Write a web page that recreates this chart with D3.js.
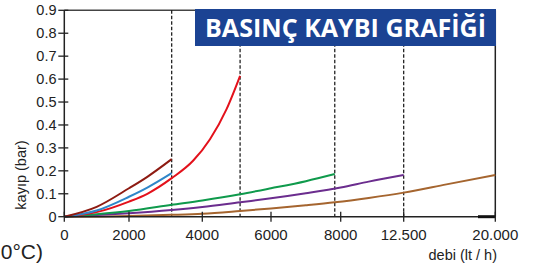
<!DOCTYPE html>
<html>
<head>
<meta charset="utf-8">
<script src="https://cdn.jsdelivr.net/npm/d3@7"></script>
<style>
body{margin:0;background:#fff;overflow:hidden;}
text{font-family:"Liberation Sans",Arial,sans-serif;fill:#222;}
</style>
</head>
<body>
<div id="svg-container"></div>
<script>
// tick values on the x axis (not evenly spaced in the original)
var xTicks = [0, 2000, 4000, 6000, 8000, 12500, 20000];
var xTickLabels = ["0", "2000", "4000", "6000", "8000", "12.500", "20.000"];
var yTicks = [0, 0.1, 0.2, 0.3, 0.4, 0.5, 0.6, 0.7, 0.8, 0.9];
var yTickLabels = ["0", "0.1", "0.2", "0.3", "0.4", "0.5", "0.6", "0.7", "0.8", "0.9"];
var limits = [3165, 5100, 7830, 12500];

// curves: [debi, kayip]
var darkRed = [[0,0],[1000,0.043],[2000,0.124],[2500,0.174],[3165,0.251]];
var blue = [[0,0],[1000,0.027],[2000,0.087],[2500,0.127],[3165,0.19]];
var red = [[0,0],[1000,0.02],[2000,0.066],[2500,0.1],[3165,0.168],[3754,0.245],[4224,0.338],[4710,0.47],[5100,0.614]];
var green = [[0,0],[1000,0.011],[2000,0.025],[3165,0.052],[4000,0.071],[5100,0.098],[6000,0.124],[7000,0.155],[7830,0.186]];
var purple = [[0,0],[1000,0.007],[2000,0.015],[3165,0.029],[4000,0.042],[5100,0.063],[6000,0.08],[7000,0.102],[8000,0.127],[10000,0.153],[12500,0.182]];
var brown = [[0,0],[2000,0.003],[3165,0.008],[4000,0.013],[5100,0.025],[6000,0.036],[7000,0.05],[7830,0.063],[10000,0.082],[12500,0.105],[16000,0.141],[20000,0.182]];

var series = [
  {d: brown, c: "#a5652f"},
  {d: purple, c: "#6b2d8e"},
  {d: green, c: "#0f9a4c"},
  {d: red, c: "#e3111b"},
  {d: blue, c: "#2f86c9"},
  {d: darkRed, c: "#8e1b12"}
];

var svg = d3.select("#svg-container").append("svg").attr("width", 537).attr("height", 270);

var x = d3.scaleLinear().domain(xTicks).range([64.3, 129, 202.3, 271, 340.7, 403.7, 495.3]);
var y = d3.scaleLinear().domain([0, 0.9]).range([216.7, 10.3]);

// frame
svg.append("line").attr("x1", x(0)).attr("x2", x(20000)).attr("y1", y(0.9)).attr("y2", y(0.9)).attr("stroke", "#444").attr("stroke-width", 1.5);
svg.append("line").attr("x1", x(20000)).attr("x2", x(20000)).attr("y1", y(0.9)).attr("y2", y(0)).attr("stroke", "#222").attr("stroke-width", 1.5);

// dashed limits
svg.selectAll(".lim").data(limits).enter().append("line")
  .attr("x1", d => x(d)).attr("x2", d => x(d))
  .attr("y1", y(0.9)).attr("y2", y(0))
  .attr("stroke", "#111").attr("stroke-width", 1.2).attr("stroke-dasharray", "3.5,2");

// curves
var line = d3.line().x(d => x(d[0])).y(d => y(d[1])).curve(d3.curveMonotoneX);
svg.selectAll(".curve").data(series).enter().append("path")
  .attr("d", d => line(d.d)).attr("fill", "none")
  .attr("stroke", d => d.c).attr("stroke-width", 2);

// y axis
svg.append("line").attr("x1", x(0)).attr("x2", x(0)).attr("y1", y(0.9)).attr("y2", y(0)).attr("stroke", "#222").attr("stroke-width", 1.5);
svg.selectAll(".yt").data(yTicks).enter().append("line")
  .attr("x1", x(0) - 6).attr("x2", x(0) + 4).attr("y1", d => y(d)).attr("y2", d => y(d))
  .attr("stroke", "#222").attr("stroke-width", 1.3);
svg.selectAll(".yl").data(yTicks).enter().append("text")
  .attr("x", 56.5).attr("y", d => y(d) + 5).attr("text-anchor", "end")
  .attr("font-size", 14.5).text((d, i) => yTickLabels[i]);

// x axis
svg.append("line").attr("x1", x(0)).attr("x2", x(20000)).attr("y1", y(0)).attr("y2", y(0)).attr("stroke", "#222").attr("stroke-width", 1.5);
svg.append("line").attr("x1", 478).attr("x2", x(20000)).attr("y1", y(0)).attr("y2", y(0)).attr("stroke", "#111").attr("stroke-width", 3);
svg.selectAll(".xt").data(xTicks).enter().append("line")
  .attr("x1", d => x(d)).attr("x2", d => x(d)).attr("y1", y(0) - 5).attr("y2", y(0) + 5)
  .attr("stroke", "#222").attr("stroke-width", 1.3);
svg.selectAll(".xl").data(xTicks).enter().append("text")
  .attr("x", d => x(d)).attr("y", 240).attr("text-anchor", "middle")
  .attr("font-size", 15).text((d, i) => xTickLabels[i]);

// labels
svg.append("text").attr("transform", "translate(26,175) rotate(-90)").attr("text-anchor", "middle")
  .attr("font-size", 14.5).text("kayıp (bar)");
svg.append("text").attr("x", 497).attr("y", 260).attr("text-anchor", "end")
  .attr("font-size", 14.5).text("debi (lt / h)");
svg.append("text").attr("x", 43).attr("y", 259).attr("text-anchor", "end")
  .attr("font-size", 21).text("0°C)");

// title box
svg.append("rect").attr("x", 195).attr("y", 9).attr("width", 301).attr("height", 37).attr("fill", "#1b4393");
svg.append("text").attr("x", 205).attr("y", 37).attr("font-size", 25).attr("font-weight", "bold")
  .attr("textLength", 281).attr("lengthAdjust", "spacingAndGlyphs")
  .style("fill", "#fff").style("font-family", "'Open Sans','DejaVu Sans',sans-serif")
  .text("BASINÇ KAYBI GRAFİĞİ");
</script>
</body>
</html>
